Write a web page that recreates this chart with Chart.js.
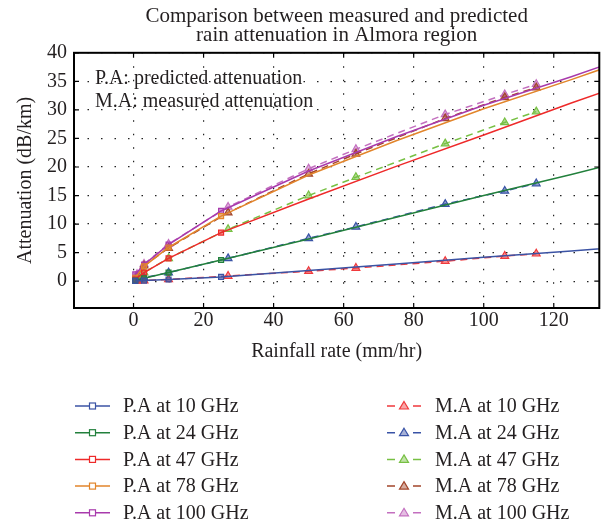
<!DOCTYPE html>
<html lang="en">
  <head>
    <meta charset="utf-8" />
    <title>Rain attenuation in Almora region</title>
    <style>
      * {
        margin: 0;
        padding: 0;
      }
      body {
        background: #fff;
      }
      .chartBox {
        width: 605px;
        height: 527px;
      }
    </style>
  </head>
  <body>
    <div class="chartBox">
      <canvas id="myChart"></canvas>
    </div>

    <script src="https://cdn.jsdelivr.net/npm/chart.js@4.4.1/dist/chart.umd.min.js"></script>

    <script>
      // data block
      const paRain = [0.5, 3, 10, 25, 50, 75, 100, 125, 140];
      const maRain = [1, 3, 10, 27, 50, 63.5, 89, 106, 115];

      const pa10 = [0.05, 0.1, 0.3, 0.75, 1.85, 3.0, 4.2, 5.3, 6.0];
      const pa24 = [0.1, 0.5, 1.5, 3.7, 7.4, 11.2, 15.0, 18.7, 21.0];
      const pa47 = [0.3, 1.5, 4.0, 8.5, 14.4, 20.1, 25.6, 31.2, 34.4];
      const pa78 = [0.6, 2.6, 5.9, 11.4, 18.6, 24.6, 30.2, 35.3, 38.5];
      const pa100 = [1.2, 2.9, 6.4, 12.3, 19.3, 25.3, 30.8, 35.8, 39.0];

      const ma10 = [0.05, 0.1, 0.3, 0.9, 1.75, 2.3, 3.5, 4.4, 4.8];
      const ma24 = [0.1, 0.6, 1.5, 4.0, 7.5, 9.5, 13.5, 15.8, 17.1];
      const ma47 = [0.3, 1.5, 4.0, 9.1, 15.0, 18.2, 24.1, 27.8, 29.7];
      const ma78 = [0.8, 2.7, 5.8, 12.0, 18.8, 22.3, 28.5, 32.2, 33.9];
      const ma100 = [1.2, 3.0, 6.5, 13.0, 19.7, 23.1, 29.2, 32.7, 34.5];

      const xTicks = [0, 20, 40, 60, 80, 100, 120];
      const yTicks = [0, 5, 10, 15, 20, 25, 30, 35, 40];

      const FONT = "'Liberation Serif', 'Times New Roman', serif";
      const TEXT = "#231f20";

      function fade(hex, a) {
        const n = parseInt(hex.slice(1), 16);
        return `rgba(${(n >> 16) & 255}, ${(n >> 8) & 255}, ${n & 255}, ${a})`;
      }

      function predicted(label, ys, color) {
        return {
          label: label,
          data: paRain.map((x, i) => ({ x: x, y: ys[i] })),
          borderColor: color,
          backgroundColor: color,
          borderWidth: 1.5,
          pointStyle: "rect",
          pointRadius: (ctx) => (ctx.dataIndex < 4 ? 3.5 : 0),
          pointBorderColor: color,
          pointBackgroundColor: fade(color, 0.55),
          pointBorderWidth: 1.2,
          measured: false,
        };
      }

      function measured(label, ys, color) {
        return {
          label: label,
          data: maRain.map((x, i) => ({ x: x, y: ys[i] })),
          borderColor: color,
          backgroundColor: color,
          borderWidth: 1.5,
          borderDash: [7, 5],
          pointStyle: "triangle",
          pointRadius: 4.5,
          pointBorderColor: color,
          pointBackgroundColor: fade(color, 0.55),
          pointBorderWidth: 1.2,
          measured: true,
        };
      }

      const data = {
        datasets: [
          predicted("P.A at 10 GHz", pa10, "#3b53a4"),
          predicted("P.A at 24 GHz", pa24, "#22803c"),
          predicted("P.A at 47 GHz", pa47, "#ee2a2a"),
          predicted("P.A at 78 GHz", pa78, "#e2852b"),
          predicted("P.A at 100 GHz", pa100, "#a83aac"),
          measured("M.A at 10 GHz", ma10, "#f0393c"),
          measured("M.A at 24 GHz", ma24, "#3953a6"),
          measured("M.A at 47 GHz", ma47, "#77c043"),
          measured("M.A at 78 GHz", ma78, "#a3462b"),
          measured("M.A at 100 GHz", ma100, "#c36fbf"),
        ],
      };

      // frame block: box round the plot with small inward ticks
      const frame = {
        id: "frame",
        afterDatasetsDraw(chart) {
          const { ctx, chartArea: a, scales } = chart;
          ctx.save();
          ctx.strokeStyle = "#000";
          ctx.lineWidth = 2;
          ctx.strokeRect(a.left, a.top, a.right - a.left, a.bottom - a.top);
          ctx.lineWidth = 1.2;
          ctx.beginPath();
          xTicks.forEach((v) => {
            const px = scales.x.getPixelForValue(v);
            ctx.moveTo(px, a.bottom);
            ctx.lineTo(px, a.bottom - 5);
            ctx.moveTo(px, a.top);
            ctx.lineTo(px, a.top + 5);
          });
          yTicks.forEach((v) => {
            const py = scales.y.getPixelForValue(v);
            ctx.moveTo(a.left, py);
            ctx.lineTo(a.left + 5, py);
            ctx.moveTo(a.right, py);
            ctx.lineTo(a.right - 5, py);
          });
          ctx.stroke();

          // notes in the corner
          ctx.fillStyle = TEXT;
          ctx.font = `20px ${FONT}`;
          ctx.textAlign = "left";
          ctx.textBaseline = "middle";
          ctx.fillText("P.A: predicted attenuation", a.left + 21, a.top + 26);
          ctx.fillText("M.A: measured attenuation", a.left + 21, a.top + 49);
          ctx.restore();
        },
      };

      // legend block: two columns under the axis title
      const twoColLegend = {
        id: "twoColLegend",
        afterDraw(chart) {
          const { ctx } = chart;
          const sets = chart.data.datasets;
          ctx.save();
          ctx.font = `20px ${FONT}`;
          ctx.textBaseline = "middle";
          ctx.textAlign = "left";
          sets.forEach((ds, i) => {
            const row = i % 5;
            const y = 406 + row * 26.7;
            ctx.strokeStyle = ds.borderColor;
            ctx.lineWidth = 1.5;
            if (!ds.measured) {
              ctx.beginPath();
              ctx.moveTo(75, y);
              ctx.lineTo(110, y);
              ctx.stroke();
              ctx.fillStyle = "#fff";
              ctx.fillRect(89.5, y - 3, 6, 6);
              ctx.lineWidth = 1.2;
              ctx.strokeRect(89.5, y - 3, 6, 6);
              ctx.fillStyle = TEXT;
              ctx.fillText(ds.label, 123, y + 1);
            } else {
              ctx.beginPath();
              ctx.moveTo(387, y);
              ctx.lineTo(395, y);
              ctx.moveTo(413, y);
              ctx.lineTo(421, y);
              ctx.stroke();
              ctx.fillStyle = fade(ds.borderColor, 0.45);
              ctx.lineWidth = 1.2;
              ctx.beginPath();
              ctx.moveTo(404, y - 4.5);
              ctx.lineTo(408.5, y + 3);
              ctx.lineTo(399.5, y + 3);
              ctx.closePath();
              ctx.fill();
              ctx.stroke();
              ctx.fillStyle = TEXT;
              ctx.fillText(ds.label, 435, y + 1);
            }
          });
          ctx.restore();
        },
      };

      // config block
      const config = {
        type: "line",
        data: data,
        options: {
          responsive: true,
          maintainAspectRatio: false,
          animation: false,
          layout: {
            padding: { left: 0, right: 2, top: 0, bottom: 163 },
          },
          scales: {
            x: {
              type: "linear",
              min: -17,
              max: 133,
              afterBuildTicks: (s) => {
                s.ticks = xTicks.map((v) => ({ value: v }));
              },
              ticks: {
                color: TEXT,
                font: { family: FONT, size: 20 },
                padding: 1,
                maxRotation: 0,
                autoSkip: false,
              },
              grid: { color: "#222", lineWidth: 1.2, drawTicks: false },
              border: { display: false, dash: [1.5, 12] },
              title: {
                display: true,
                text: "Rainfall rate (mm/hr)",
                color: TEXT,
                font: { family: FONT, size: 20 },
                padding: { top: 6, bottom: 0 },
              },
            },
            y: {
              type: "linear",
              min: -4.7,
              max: 40,
              afterBuildTicks: (s) => {
                s.ticks = yTicks.map((v) => ({ value: v }));
              },
              afterFit: (s) => {
                s.width = 74;
              },
              ticks: {
                color: TEXT,
                font: { family: FONT, size: 20 },
                padding: 7,
              },
              grid: { color: "#222", lineWidth: 1.2, drawTicks: false },
              border: { display: false, dash: [1.5, 12] },
              title: {
                display: true,
                text: "Attenuation (dB/km)",
                color: TEXT,
                font: { family: FONT, size: 20 },
                padding: { top: 14, bottom: 0 },
              },
            },
          },
          plugins: {
            legend: { display: false },
            tooltip: { enabled: false },
            title: {
              display: true,
              fullSize: false,
              text: [
                "Comparison between measured and predicted",
                "rain attenuation in Almora region",
              ],
              color: TEXT,
              font: { family: FONT, size: 21, weight: "normal", lineHeight: 0.905 },
              padding: { top: 6.5, bottom: 8.3 },
            },
          },
        },
        plugins: [frame, twoColLegend],
      };

      // init render block
      const myChart = new Chart(document.getElementById("myChart"), config);
    </script>
  </body>
</html>
